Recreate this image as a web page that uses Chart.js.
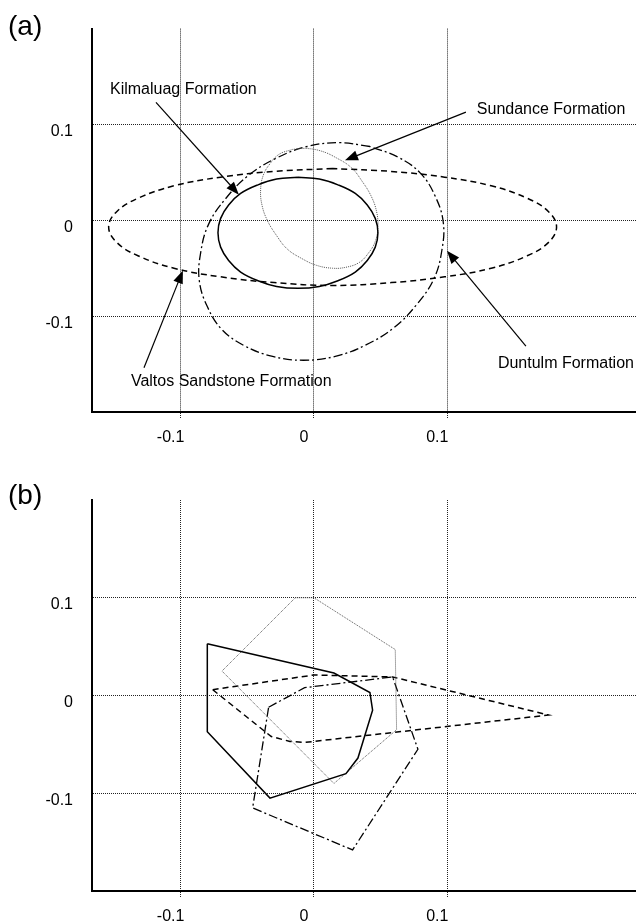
<!DOCTYPE html>
<html>
<head>
<meta charset="utf-8">
<script src="https://cdn.jsdelivr.net/npm/chart.js@4.4.0/dist/chart.umd.min.js"></script>
<style>
  html, body { margin: 0; padding: 0; background: #fff; }
  .panel { position: absolute; left: 0; width: 636px; height: 462px; }
  #wrapA { top: 0; }
  #wrapB { top: 462px; }
</style>
</head>
<body>
<div class="panel" id="wrapA"><canvas id="chartA" width="636" height="462"></canvas></div>
<div class="panel" id="wrapB"><canvas id="chartB" width="636" height="462"></canvas></div>
<script>
// tick values shared by both panels
const tickValues = [-0.1, 0, 0.1];

// (a) ellipses, points
const kilmaluagA = [[-0.012,0.045],[-0.028,0.043],[-0.042,0.037],[-0.055,0.028],[-0.064,0.016],[-0.070,0.002],[-0.072,-0.013],[-0.070,-0.028],[-0.064,-0.042],[-0.055,-0.054],[-0.042,-0.063],[-0.028,-0.069],[-0.012,-0.071],[0.004,-0.069],[0.018,-0.063],[0.031,-0.054],[0.040,-0.042],[0.046,-0.028],[0.048,-0.013],[0.046,0.002],[0.040,0.016],[0.031,0.028],[0.018,0.037],[0.004,0.043],[-0.012,0.045]];
const sundanceA = [[-0.016,0.074],[-0.026,0.069],[-0.033,0.059],[-0.038,0.047],[-0.040,0.032],[-0.039,0.016],[-0.035,0.000],[-0.028,-0.016],[-0.020,-0.030],[-0.009,-0.040],[0.002,-0.047],[0.014,-0.050],[0.024,-0.049],[0.034,-0.044],[0.041,-0.034],[0.046,-0.022],[0.048,-0.007],[0.047,0.009],[0.043,0.025],[0.036,0.041],[0.028,0.055],[0.017,0.065],[0.006,0.072],[-0.006,0.075],[-0.016,0.074]];
const valtosA = [[0.014,0.054],[-0.030,0.051],[-0.070,0.045],[-0.105,0.036],[-0.132,0.023],[-0.148,0.009],[-0.154,-0.007],[-0.148,-0.023],[-0.132,-0.037],[-0.105,-0.050],[-0.070,-0.059],[-0.030,-0.065],[0.014,-0.068],[0.058,-0.065],[0.098,-0.059],[0.133,-0.050],[0.160,-0.037],[0.176,-0.023],[0.182,-0.007],[0.176,0.009],[0.160,0.023],[0.133,0.036],[0.098,0.045],[0.058,0.051],[0.014,0.054]];
const duntulmA = [[0.042,0.077],[0.019,0.081],[-0.005,0.077],[-0.028,0.065],[-0.049,0.047],[-0.066,0.023],[-0.079,-0.004],[-0.085,-0.034],[-0.086,-0.063],[-0.080,-0.090],[-0.069,-0.114],[-0.052,-0.131],[-0.031,-0.142],[-0.008,-0.146],[0.016,-0.142],[0.039,-0.130],[0.060,-0.112],[0.077,-0.088],[0.090,-0.061],[0.096,-0.031],[0.097,-0.002],[0.091,0.025],[0.080,0.049],[0.063,0.066],[0.042,0.077]];

// (b) polygons
const kilmaluagB = [[-0.080,0.053],[0.015,0.023],[0.042,0.003],[0.044,-0.015],[0.033,-0.064],[0.024,-0.080],[-0.033,-0.105],[-0.080,-0.037],[-0.080,0.053]];
const sundanceB = [[-0.014,0.100],[0.000,0.100],[0.061,0.047],[0.062,-0.035],[0.015,-0.090],[-0.069,0.025],[-0.014,0.100]];
const valtosB = [[-0.076,0.006],[0.000,0.021],[0.059,0.019],[0.176,-0.020],[-0.007,-0.048],[-0.018,-0.047],[-0.032,-0.042],[-0.076,0.006]];
const duntulmB = [[-0.034,-0.012],[-0.007,0.008],[0.059,0.019],[0.078,-0.055],[0.029,-0.158],[-0.046,-0.115],[-0.034,-0.012]];

// labels with arrows in panel (a): text anchor, arrow start, arrow tip
const noteTexts = ['Kilmaluag Formation', 'Sundance Formation', 'Duntulm Formation', 'Valtos Sandstone Formation'];
const noteAnchors = [[-0.1530, 0.1364], [0.1222, 0.1159], [0.1380, -0.1492], [-0.1373, -0.1682]];
const arrowFrom = [[-0.1185, 0.1231], [0.1140, 0.1128], [0.1590, -0.1313], [-0.1275, -0.1538]];
const arrowTo = [[-0.0563, 0.0267], [0.0233, 0.0626], [0.0998, -0.0318], [-0.0983, -0.0523]];

const FONT = '"Liberation Sans", Arial, sans-serif';
const toXY = arr => arr.map(p => ({ x: p[0], y: p[1] }));

function series(points, style, smooth) {
  return Object.assign({
    data: toXY(points),
    showLine: true,
    pointRadius: 0,
    fill: false,
    tension: smooth ? 0.4 : 0,
    borderColor: '#000',
    borderWidth: 1.5,
  }, style);
}

const solid = {};
const dotted = { borderColor: '#555', borderWidth: 1, borderDash: [1, 1] };
const dashed = { borderDash: [6, 4] };
const dashDot = { borderWidth: 1.3, borderDash: [9, 3, 2, 3] };

const notesPlugin = {
  id: 'notes',
  afterDatasetsDraw(chart, args, opts) {
    const ctx = chart.ctx;
    const xs = chart.scales.x, ys = chart.scales.y;
    ctx.save();
    ctx.fillStyle = '#000';
    ctx.strokeStyle = '#000';
    ctx.textBaseline = 'middle';
    ctx.font = '28px ' + FONT;
    ctx.fillText(opts.label, opts.labelX, opts.labelY);
    if (opts.withNotes) {
      ctx.font = '16px ' + FONT;
      noteTexts.forEach((t, i) => {
        ctx.fillText(t, xs.getPixelForValue(noteAnchors[i][0]), ys.getPixelForValue(noteAnchors[i][1]));
        const x0 = xs.getPixelForValue(arrowFrom[i][0]), y0 = ys.getPixelForValue(arrowFrom[i][1]);
        const x1 = xs.getPixelForValue(arrowTo[i][0]), y1 = ys.getPixelForValue(arrowTo[i][1]);
        const a = Math.atan2(y1 - y0, x1 - x0);
        ctx.lineWidth = 1.2;
        ctx.beginPath();
        ctx.moveTo(x0, y0);
        ctx.lineTo(x1 - 8 * Math.cos(a), y1 - 8 * Math.sin(a));
        ctx.stroke();
        ctx.beginPath();
        ctx.moveTo(x1, y1);
        ctx.lineTo(x1 - 13 * Math.cos(a) + 5 * Math.sin(a), y1 - 13 * Math.sin(a) - 5 * Math.cos(a));
        ctx.lineTo(x1 - 13 * Math.cos(a) - 5 * Math.sin(a), y1 - 13 * Math.sin(a) + 5 * Math.cos(a));
        ctx.closePath();
        ctx.fill();
      });
    }
    ctx.restore();
  }
};

function makeOptions(padTop, xAxisHeight, label, labelY, withNotes) {
  const setTicks = scale => { scale.ticks = tickValues.map(v => ({ value: v })); };
  const fmt = v => (v === 0 ? '0' : String(v));
  return {
    responsive: false,
    animation: false,
    layout: { padding: { top: padTop, left: 0, right: 0, bottom: 0 } },
    plugins: {
      legend: { display: false },
      tooltip: { enabled: false },
      notes: { label: label, labelX: 8, labelY: labelY, withNotes: withNotes },
    },
    scales: {
      x: {
        type: 'linear',
        min: -0.1665,
        max: 0.2416,
        afterBuildTicks: setTicks,
        afterFit: scale => { scale.height = xAxisHeight; },
        border: { display: true, color: '#000', width: 2, dash: [1, 1] },
        grid: { color: '#222', lineWidth: 1, drawTicks: true, tickLength: 6, tickColor: '#222', tickBorderDash: [1, 1] },
        ticks: { color: '#000', font: { size: 16, family: FONT }, padding: 10, labelOffset: -10, maxRotation: 0, callback: fmt },
      },
      y: {
        type: 'linear',
        min: -0.2,
        max: 0.2,
        afterBuildTicks: setTicks,
        afterFit: scale => { scale.width = 92; },
        border: { display: true, color: '#000', width: 2, dash: [1, 1] },
        grid: { color: '#222', lineWidth: 1, drawTicks: false },
        ticks: { color: '#000', font: { size: 16, family: FONT }, padding: 19, labelOffset: 7, callback: fmt },
      },
    },
  };
}

new Chart(document.getElementById('chartA'), {
  type: 'scatter',
  data: {
    datasets: [
      series(kilmaluagA, solid, true),
      series(sundanceA, dotted, true),
      series(valtosA, dashed, true),
      series(duntulmA, dashDot, true),
    ],
  },
  options: makeOptions(22, 50, '(a)', 27, true),
  plugins: [notesPlugin],
});

new Chart(document.getElementById('chartB'), {
  type: 'scatter',
  data: {
    datasets: [
      series(kilmaluagB, solid, false),
      series(sundanceB, dotted, false),
      series(valtosB, dashed, false),
      series(duntulmB, dashDot, false),
    ],
  },
  options: makeOptions(38, 33, '(b)', 34, false),
  plugins: [notesPlugin],
});
</script>
</body>
</html>
